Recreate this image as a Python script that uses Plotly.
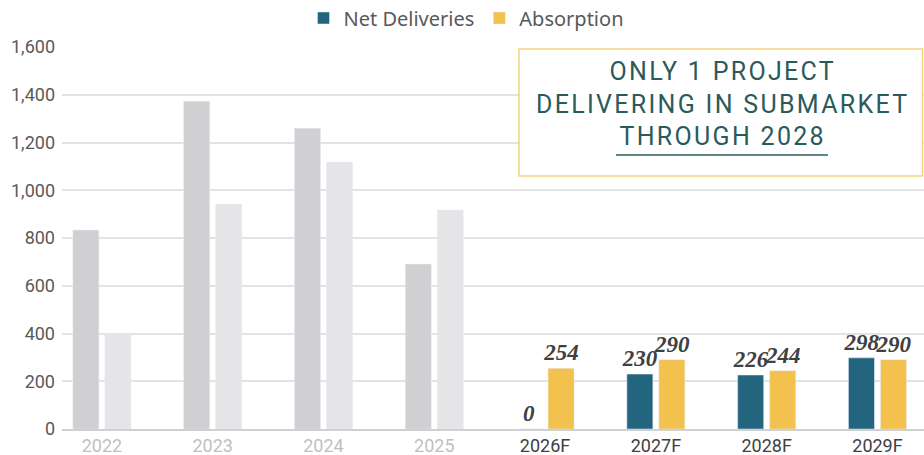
import plotly.graph_objects as go

categories = ["2022", "2023", "2024", "2025", "2026F", "2027F", "2028F", "2029F"]
net_deliveries = [833, 1373, 1260, 691, 0, 230, 226, 298]
absorption = [401, 942, 1118, 917, 254, 290, 244, 290]
is_forecast = [False, False, False, False, True, True, True, True]
y_ticks = [0, 200, 400, 600, 800, 1000, 1200, 1400, 1600]
y_tick_labels = ["0", "200", "400", "600", "800", "1,000", "1,200", "1,400", "1,600"]
callout_lines = ["ONLY 1 PROJECT", "DELIVERING IN SUBMARKET", "THROUGH 2028"]

TEAL = "#23657F"
YELLOW = "#F2C14E"
GRAY_DARK = "#D0D0D2"
GRAY_LIGHT = "#E5E5E7"

nd_colors = [TEAL if f else GRAY_DARK for f in is_forecast]
ab_colors = [YELLOW if f else GRAY_LIGHT for f in is_forecast]
nd_text = [str(v) if f else "" for v, f in zip(net_deliveries, is_forecast)]
ab_text = [str(v) if f else "" for v, f in zip(absorption, is_forecast)]

label_font = dict(family="Liberation Serif", size=23, color="#404040", weight="bold", style="italic")

fig = go.Figure()
fig.add_trace(go.Bar(x=categories, y=net_deliveries, marker_color=nd_colors, offsetgroup="nd",
                     text=nd_text, textposition="outside", textfont=label_font, cliponaxis=False,
                     constraintext="none", showlegend=False, hoverinfo="skip"))
fig.add_trace(go.Bar(x=categories, y=absorption, marker_color=ab_colors, offsetgroup="ab",
                     text=ab_text, textposition="outside", textfont=label_font, cliponaxis=False,
                     constraintext="none", showlegend=False, hoverinfo="skip"))
# legend entries
fig.add_trace(go.Bar(x=categories[-1:], y=[None], marker_color=TEAL, offsetgroup="nd",
                     name="Net Deliveries", showlegend=True))
fig.add_trace(go.Bar(x=categories[-1:], y=[None], marker_color=YELLOW, offsetgroup="ab",
                     name="Absorption", showlegend=True))

tick_text = [f'<span style="color:{"#404040" if f else "#BFBFBF"}">{c}</span>'
             for c, f in zip(categories, is_forecast)]

fig.update_layout(
    width=924, height=455,
    margin=dict(l=62, r=0, t=47, b=26, autoexpand=False),
    paper_bgcolor="white", plot_bgcolor="white",
    barmode="group", bargap=0.422, bargroupgap=0.1875,
    legend=dict(orientation="h", xref="container", yref="container",
                x=466 / 924, xanchor="center", y=1 - 18 / 455, yanchor="middle",
                font=dict(family="Noto Sans", size=20, color="#595959"),
                traceorder="normal", itemwidth=30),
    xaxis=dict(type="category", categoryorder="array", categoryarray=categories,
               range=[-0.36, 7.42], tickvals=categories, ticktext=tick_text,
               tickfont=dict(family="Roboto", size=18, color="#404040"),
               showgrid=False, showline=True, linecolor="#D0D0D0", linewidth=1.5,
               ticks="", ticklabelstandoff=0, automargin=False),
    yaxis=dict(range=[0, 1600], tickvals=y_ticks, ticktext=y_tick_labels,
               tickfont=dict(family="Roboto", size=18, color="#595959"),
               showgrid=True, gridcolor="#E3E3E3", gridwidth=1.5, zeroline=False,
               ticks="", ticklabelstandoff=6, showline=False, automargin=False),
)

# callout box
fig.add_shape(type="rect", xref="paper", yref="paper",
              x0=(519 - 62) / 862, x1=(922.5 - 62) / 862,
              y0=(429 - 176) / 382, y1=(429 - 49) / 382,
              line=dict(color="#F5D37F", width=1.5), fillcolor="white", layer="above")
fig.add_annotation(xref="paper", yref="paper",
                   x=(722 - 62) / 862, y=(429 - 104) / 382, xanchor="center", yanchor="middle",
                   text="<br>".join(f'<span style="letter-spacing:2.3px">{l}</span>' for l in callout_lines),
                   showarrow=False, align="center",
                   font=dict(family="Roboto", size=25, color="#2B5A5A"))
fig.add_shape(type="line", xref="paper", yref="paper",
              x0=(616 - 62) / 862, x1=(828 - 62) / 862,
              y0=(429 - 155) / 382, y1=(429 - 155) / 382,
              line=dict(color="#2B5A5A", width=1.5), layer="above")

fig.write_html("out.html", config={"displayModeBar": False},
               post_script="document.body.style.margin='0';")
